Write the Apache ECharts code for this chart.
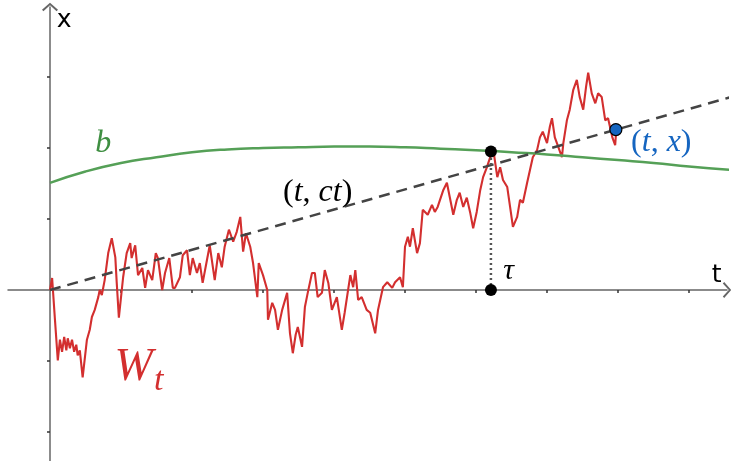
<!DOCTYPE html>
<html>
<head>
<meta charset="utf-8">
<script src="https://cdn.jsdelivr.net/npm/echarts@6/dist/echarts.min.js"></script>
<style>
  html, body { margin: 0; padding: 0; background: #fff; }
  #chart { width: 731px; height: 461px; }
</style>
</head>
<body>
<div id="chart"></div>
<script>
// tick positions on both axes (no numbers shown)
const tTicks = [1, 2, 3, 4, 5, 6, 7, 8, 9];
const xTicks = [-2, -1, 1, 2, 3];

// boundary curve b(t)
const bT = [0, 0.5, 1, 1.5, 2, 2.5, 3, 3.5, 4, 4.5, 5, 5.5, 6, 6.5, 7, 7.5, 8, 8.5, 9, 9.6];
const bV = [1.51, 1.67, 1.79, 1.87, 1.94, 1.98, 2.0, 2.01, 2.02, 2.02, 2.01, 1.99, 1.97, 1.94, 1.91, 1.87, 1.83, 1.79, 1.74, 1.69];

// dashed line x = c t
const lineT = [0, 9.6];
const lineV = [0, 2.72];

// sample path W_t
const walkT = [0, 0.03, 0.07, 0.11, 0.14, 0.17, 0.20, 0.23, 0.25, 0.28, 0.31, 0.34, 0.37, 0.39, 0.42, 0.46,
  0.52, 0.56, 0.59, 0.63, 0.68, 0.70, 0.73, 0.77, 0.82, 0.87, 0.92, 0.94, 0.97, 1.03, 1.08, 1.13, 1.15,
  1.20, 1.24, 1.30, 1.34, 1.38, 1.44, 1.49, 1.52, 1.58, 1.62, 1.68, 1.73, 1.76, 1.83, 1.87, 1.93, 1.97,
  2.01, 2.07, 2.11, 2.15, 2.21, 2.25, 2.32, 2.37, 2.42, 2.46, 2.52, 2.58, 2.63, 2.68, 2.72, 2.76, 2.82,
  2.86, 2.92, 2.94, 3.00, 3.06, 3.07, 3.13, 3.17, 3.21, 3.27, 3.34, 3.38, 3.42, 3.46, 3.49, 3.55, 3.59,
  3.63, 3.69, 3.73, 3.77, 3.83, 3.87, 3.92, 3.97, 4.04, 4.11, 4.15, 4.23, 4.27, 4.30, 4.34, 4.39, 4.46,
  4.51, 4.58, 4.62, 4.69, 4.75, 4.82, 4.86, 4.93, 4.97, 5.00, 5.04, 5.07, 5.11, 5.17, 5.21, 5.25, 5.32,
  5.38, 5.42, 5.46, 5.54, 5.59, 5.63, 5.68, 5.73, 5.77, 5.82, 5.87, 5.92, 5.96, 6.01, 6.06, 6.10, 6.15,
  6.21, 6.24, 6.30, 6.34, 6.38, 6.44, 6.48, 6.52, 6.58, 6.62, 6.66, 6.72, 6.76, 6.80, 6.86, 6.90, 6.94,
  7.00, 7.04, 7.07, 7.11, 7.15, 7.21, 7.23, 7.28, 7.32, 7.37, 7.42, 7.46, 7.51, 7.55, 7.58, 7.63, 7.68,
  7.72, 7.77, 7.82, 7.86, 7.92, 7.96, 7.97];
const walkW = [0, 0.17, -0.42, -0.99, -0.70, -0.87, -0.66, -0.85, -0.68, -0.82, -0.70, -0.87, -0.77, -0.92, -0.85, -1.23,
  -0.70, -0.56, -0.38, -0.28, -0.10, 0, -0.07, 0.14, 0.52, 0.73, 0.46, 0.10, -0.39, 0.18, 0.52, 0.66, 0.45,
  0.63, 0.21, 0.31, 0.03, 0.28, 0.14, 0.52, 0.45, 0, 0.24, 0.45, 0.03, 0.03, 0.18, 0.49, 0.56, 0.21,
  0.45, 0.24, 0.38, 0.10, 0.42, 0.63, 0.14, 0.52, 0.32, 0.61, 0.85, 0.68, 0.82, 1.03, 0.54, 0.80, 0.61,
  0.38, -0.10, 0.38, 0.21, 0, -0.42, -0.18, -0.28, -0.56, -0.28, -0.04, -0.61, -0.89, -0.63, -0.52, -0.80, -0.24,
  -0.04, 0.24, 0.24, -0.10, -0.04, 0.28, 0.10, -0.28, -0.10, -0.56, -0.32, 0.21, 0.04, 0.28, -0.14, -0.10, -0.28,
  -0.32, -0.61, -0.28, 0.04, 0.11, 0.03, 0.11, 0.18, 0.04, 0.61, 0.75, 0.61, 0.87, 0.52, 0.66, 1.13, 1.06,
  1.20, 1.10, 1.17, 1.41, 1.51, 1.31, 1.06, 1.27, 1.37, 1.17, 1.30, 1.08, 0.87, 1.10, 1.41, 1.59, 1.72,
  1.90, 2.00, 1.59, 1.73, 1.55, 1.45, 1.17, 0.89, 1.03, 1.27, 1.23, 1.51, 1.69, 1.87, 1.97, 2.15, 2.23,
  2.07, 2.30, 2.42, 2.15, 2.04, 1.87, 2.07, 2.39, 2.54, 2.82, 2.96, 2.72, 2.54, 2.86, 3.06, 2.77, 2.63,
  2.77, 2.72, 2.39, 2.42, 2.15, 2.04, 2.18];

// stopping time and end point
const tau = 6.21;
const tauB = 1.95;
const endT = 7.97;
const endX = 2.26;

const zip = (a, b) => a.map((v, i) => [v, b[i]]);

// open chevron used as axis arrow (wide, thin arms)
const chevron = 'path://M8,0 L16,7 L14.6,8.4 L8,2.4 L1.4,8.4 L0,7 Z';

const mathFont = '"Liberation Serif", "DejaVu Serif", serif';

function textPoint(pos, fmt, rich, color) {
  return {
    value: pos,
    label: {
      show: true, position: 'inside', formatter: fmt, color: color,
      fontFamily: mathFont, rich: rich
    }
  };
}

const chart = echarts.init(document.getElementById('chart'), null, { renderer: 'canvas' });

chart.setOption({
  animation: false,
  backgroundColor: '#fff',
  grid: { left: 8, right: 4, top: 7, bottom: 0, containLabel: false },
  xAxis: {
    type: 'value', min: -0.5915, max: 9.535,
    axisLine: {
      onZero: true,
      symbol: ['none', chevron], symbolSize: [16, 8.4], symbolOffset: [0, 0],
      lineStyle: { color: '#666', width: 1.5 }
    },
    axisTick: { show: true, customValues: tTicks, length: 3, lineStyle: { color: '#333', width: 1.5 } },
    axisLabel: { show: false },
    splitLine: { show: false }
  },
  yAxis: {
    type: 'value', min: -2.408, max: 3.986,
    axisLine: {
      show: true, onZero: true,
      symbol: ['none', chevron], symbolSize: [16, 8.4], symbolOffset: [0, 0],
      lineStyle: { color: '#666', width: 1.5 }
    },
    axisTick: { show: true, customValues: xTicks, length: 3, lineStyle: { color: '#333', width: 1.5 } },
    axisLabel: { show: false },
    splitLine: { show: false }
  },
  series: [
    {
      name: 'W', type: 'line', data: zip(walkT, walkW), showSymbol: false, silent: true,
      lineStyle: { color: '#d32f2f', width: 2.1 }, z: 2
    },
    {
      name: 'b', type: 'line', data: zip(bT, bV), smooth: true, showSymbol: false, silent: true,
      lineStyle: { color: '#55a057', width: 2.5 }, z: 3
    },
    {
      name: 'ct', type: 'line', data: zip(lineT, lineV), showSymbol: false, silent: true,
      lineStyle: { color: '#444', width: 2.5, type: [11, 7] }, z: 4
    },
    {
      name: 'tau', type: 'line', data: [[tau, 0], [tau, tauB]], showSymbol: false, silent: true,
      lineStyle: { color: '#555', width: 2.5, type: [2, 3] }, z: 4
    },
    {
      name: 'pts', type: 'scatter', silent: true, z: 6, symbolSize: 12,
      itemStyle: { color: '#000', opacity: 1 },
      data: [[tau, 0], [tau, tauB]]
    },
    {
      name: 'end', type: 'scatter', silent: true, z: 6, symbolSize: 12,
      itemStyle: { color: '#1565c0', borderColor: '#000', borderWidth: 1.2, opacity: 1 },
      data: [[endT, endX]]
    },
    {
      name: 'text', type: 'scatter', silent: true, z: 7, symbolSize: 0,
      itemStyle: { opacity: 1 },
      data: [
        { value: [0.2, 3.79], label: { show: true, position: 'inside', formatter: 'x', color: '#000',
          fontFamily: '"DejaVu Sans", sans-serif', fontSize: 25 } },
        { value: [9.39, 0.2], label: { show: true, position: 'inside', formatter: 't', color: '#000',
          fontFamily: '"DejaVu Sans", sans-serif', fontSize: 25 } },
        textPoint([0.75, 2.06], '{i|b}', { i: { fontStyle: 'italic', fontSize: 32, fontFamily: mathFont, color: '#3f8f42' } }, '#3f8f42'),
        textPoint([3.77, 1.37], '{u|(}{i|t}{u|, }{i|ct}{u|)}', {
          u: { fontSize: 32, fontFamily: mathFont, color: '#000' },
          i: { fontSize: 32, fontFamily: mathFont, fontStyle: 'italic', color: '#000' }
        }, '#000'),
        textPoint([8.61, 2.08], '{u|(}{i|t}{u|, }{i|x}{u|)}', {
          u: { fontSize: 32, fontFamily: mathFont, color: '#1565c0' },
          i: { fontSize: 32, fontFamily: mathFont, fontStyle: 'italic', color: '#1565c0' }
        }, '#1565c0'),
        textPoint([6.46, 0.27], '{i|τ}', { i: { fontStyle: 'italic', fontSize: 30, fontFamily: mathFont, color: '#000' } }, '#000'),
        textPoint([1.18, -1.10], '{i|W}', { i: { fontStyle: 'italic', fontSize: 46, fontFamily: mathFont, color: '#d32f2f' } }, '#d32f2f'),
        textPoint([1.53, -1.28], '{i|t}', { i: { fontStyle: 'italic', fontSize: 34, fontFamily: mathFont, color: '#d32f2f' } }, '#d32f2f')
      ]
    }
  ]
});
</script>
</body>
</html>
